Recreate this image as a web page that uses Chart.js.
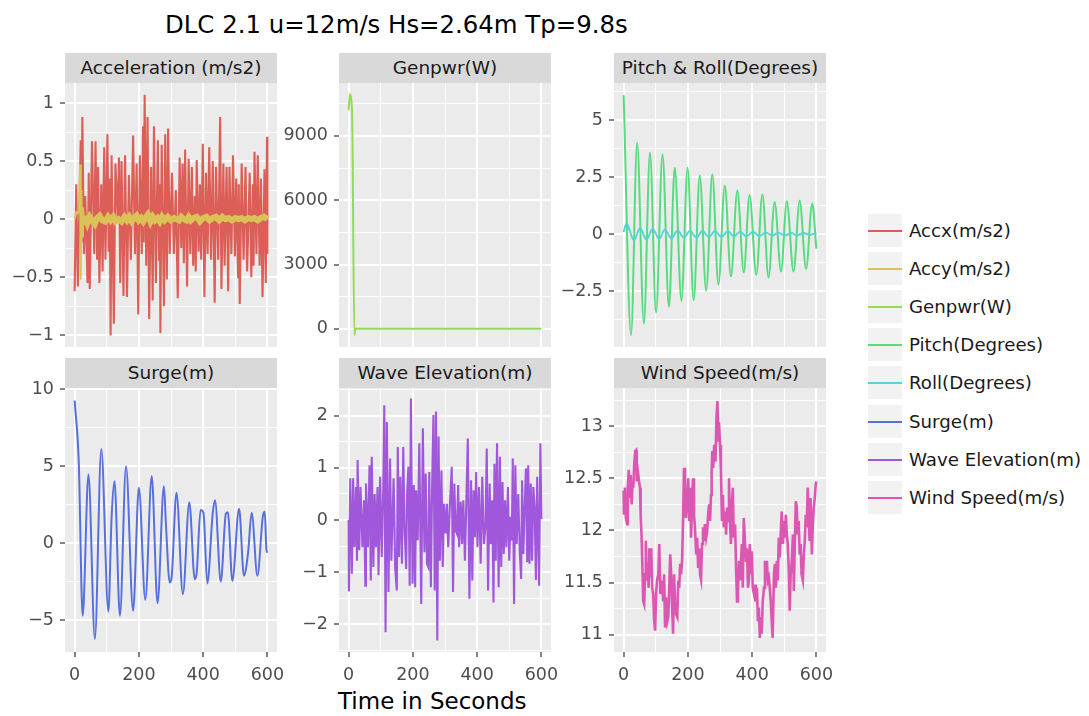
<!DOCTYPE html>
<html>
<head>
<meta charset="utf-8">
<script src="https://cdn.jsdelivr.net/npm/chart.js@4"></script>
<style>
  body { margin: 0; background: #fff; font-family: "DejaVu Sans", sans-serif; }
  #wrap { position: relative; width: 1089px; height: 716px; overflow: hidden; }
  #wrap canvas { position: absolute; }
  .strip { position: absolute; width: 212px; height: 30px; line-height: 30px; background: #D9D9D9;
           color: #1A1A1A; font-size: 18.5px; text-align: center; white-space: nowrap; }
  .key { position: absolute; left: 868px; width: 34px; height: 33px; background: #F2F2F2; }
  .key div { position: absolute; left: 0; width: 34px; top: 16px; height: 2px; }
  .ltext { position: absolute; left: 909px; height: 24px; line-height: 24px; font-size: 18.2px; color: #1A1A1A; white-space: nowrap; }
  .title { position: absolute; left: 165px; top: 10px; font-size: 24.4px; color: #000; white-space: nowrap; }
  .xtitle { position: absolute; left: 338px; top: 688px; font-size: 23px; color: #000; white-space: nowrap; }
</style>
</head>
<body>
<div id="wrap">
  <div class="title">DLC 2.1 u=12m/s Hs=2.64m Tp=9.8s</div>
  <div class="xtitle">Time in Seconds</div>
</div>
<script>
// Noms des séries (légende)
const seriesNames = ['Accx(m/s2)', 'Accy(m/s2)', 'Genpwr(W)', 'Pitch(Degrees)',
  'Roll(Degrees)', 'Surge(m)', 'Wave Elevation(m)', 'Wind Speed(m/s)'];
const seriesColors = ['#DB5F57', '#DBC257', '#91DB57', '#57DB80', '#57D3DB', '#5770DB', '#A157DB', '#DB57B2'];

// Données (temps en s, valeurs)
const accxTime = [0,5,10,19,21,24,29,33,40,44,47,54,61,65,70,73,77,83,87,92,96,102,106,109,112,115,122,127,134,138,
  142,146,152,157,163,169,175,182,188,193,198,203,209,213,215,218,223,227,232,238,243,247,253,259,263,265,267,271,278,282,
  287,291,296,303,309,315,321,327,332,336,340,344,350,355,360,365,369,374,377,380,386,390,394,399,404,409,414,419,425,430,
  436,440,447,453,457,463,467,473,478,482,488,493,499,503,509,511,514,520,526,532,537,545,550,555,557,560,566,570,576,580,
  585,591,595,599,600];
const accxValues = [-0.62,0.3,-0.58,0.68,-0.2,0.88,-0.3,0.2,-0.55,0.4,-0.6,0.67,-0.3,0.67,-0.35,0.45,-0.55,0.3,-0.45,0.62,
  -0.35,0.73,-0.28,0.35,-1.0,0.55,-0.9,0.48,0.0,0.53,-0.55,0.5,-0.66,0.55,-0.67,0.38,-0.35,0.72,-0.3,0.48,
  -0.82,0.55,-0.3,0.8,-0.2,1.07,-0.4,0.88,-0.86,0.45,-0.7,0.8,-0.55,0.68,-0.35,0.3,-0.98,0.64,-0.75,0.73,
  -0.52,0.78,-0.3,0.4,-0.3,0.25,-0.68,0.53,-0.25,0.48,-0.38,0.6,-0.58,0.52,-0.3,0.45,-0.4,0.2,-0.45,0.51,
  -0.28,0.3,-0.35,0.65,-0.67,0.4,-0.3,0.62,-0.35,0.5,-0.72,0.45,-0.35,0.88,-0.6,0.48,-0.4,0.45,-0.62,0.45,
  -0.3,0.55,-0.32,0.35,-0.5,0.3,-0.73,0.48,-0.35,0.45,-0.45,0.4,-0.5,0.3,-0.4,0.58,-0.3,0.55,-0.4,0.35,
  -0.67,0.43,-0.55,0.71,-0.3];

const accyTime = [0,5,10,14,17,19,21,23,26,29,33,40,47,55,63,70,78,86,95,104,112,120,128,137,146,155,163,170,178,186,
  193,200,207,214,222,228,236,243,250,258,265,272,280,290,300,310,318,325,332,340,348,355,362,370,380,390,400,410,420,430,
  440,450,460,470,480,490,500,510,520,530,540,550,560,570,580,590,600];
const accyValues = [0,0.06,0.05,0.08,0.47,-0.52,0.25,-0.15,0.1,-0.05,0.03,-0.03,0.02,-0.01,-0.04,0.01,0.03,-0.01,-0.02,0.02,
  -0.01,0.02,-0.02,0,-0.02,0.02,-0.01,0.02,-0.02,0.01,0.03,-0.01,0.01,-0.02,0.02,0.04,-0.02,0.02,-0.01,0.01,
  -0.02,0.02,-0.01,0.02,-0.01,0.01,0,-0.01,0.02,0,-0.01,0.02,-0.01,0.01,0.02,-0.02,0.01,0.02,-0.01,0.01,
  0.02,-0.01,0.02,0,0.01,-0.01,0.01,0,0.01,-0.01,0.01,0,0.01,-0.01,0.01,0.02,0];

const genpwrTime = [0,3,5,8,11,18,21,600];
const genpwrValues = [10200,10800,10950,10700,9900,-280,0,0];

const pitchTime = [0,23,42,63,82,101,121,141,159,180,199,218,237,257,276,295,315,334,354,374,392,413,432,451,470,490,508,529,548,568,587,600];
const pitchValues = [6.1,-4.44,4.01,-3.93,3.57,-3.46,3.5,-3.19,2.91,-2.93,2.91,-2.9,2.57,-2.49,2.62,-2.21,2.13,-1.87,1.91,-1.69,
  1.71,-1.79,1.74,-1.91,1.41,-1.65,1.44,-1.65,1.47,-1.54,1.34,-0.65];

const rollTime = [0,9,32,51,71,90,111,128,149,168,187,206,227,245,266,284,304,325,343,363,382,403,423,442,463,482,501,522,540,560,578,600];
const rollValues = [0.09,0.46,-0.28,0.26,-0.25,0.22,-0.21,0.19,-0.19,0.16,-0.16,0.13,-0.15,0.13,-0.13,0.13,-0.12,0.12,-0.1,0.1,
  -0.1,0.09,-0.09,0.07,-0.07,0.06,-0.06,0.04,-0.06,0.04,-0.03,0.03];

const surgeTime = [0,13,25,43,63,83,105,115,124,141,160,182,200,220,240,258,278,284,296,302,317,337,357,374,380,392,401,413,430,437,
  455,471,477,491,512,527,540,551,569,586,592,597,600];
const surgeValues = [9.27,5.2,-4.7,4.46,-6.2,6.12,-4.42,1.66,4.03,-4.7,5.0,-4.37,3.6,-3.66,4.35,-3.88,3.7,1.34,-2.54,-2.2,
  3.28,-3.3,2.67,-2.33,-1.9,2.16,1.98,-2.6,1.98,2.8,-2.48,1.94,2.02,-2.44,2.24,-2.1,-0.6,1.98,-2.1,1.77,2.05,-0.4,-0.6];

const waveTime = [0,1,5,10,14,18,23,26,28,33,37,43,48,52,54,60,65,69,72,77,81,85,90,93,98,103,108,111,115,119,
  124,129,133,140,145,150,153,157,161,166,170,174,179,182,186,190,194,199,203,207,210,215,220,226,231,236,240,244,248,251,
  256,260,264,268,272,276,280,284,289,293,297,302,306,310,315,321,325,329,333,337,341,344,349,353,357,362,366,371,376,381,
  385,389,393,397,401,406,411,416,421,426,430,434,439,443,447,451,454,458,462,467,471,475,479,483,487,491,496,500,504,508,
  511,515,519,523,528,533,537,540,544,548,552,556,559,563,567,571,575,579,583,587,590,593,597,600];
const waveValues = [0,-1.37,0.8,-1.03,0.8,-0.52,0.63,-0.78,1.15,-0.58,0.63,-0.52,0.38,-1.26,0.7,-0.52,1.05,-1.16,1.21,-0.9,
  0.5,-0.52,0.63,-1.06,0.83,-0.71,0.7,2.2,-2.15,1.88,-1.38,1.18,-0.78,0.8,-0.94,-1.35,1.4,-0.71,0.83,-0.84,
  1.4,-0.13,-0.94,0.5,1.02,-1.26,2.33,-1.22,0.67,-1.29,0.57,-0.39,1.47,-1.61,1.76,-0.62,0.89,-0.84,-0.9,0.92,
  -1.29,0.7,2.01,-1.35,2.08,-2.31,1.6,-0.78,0.95,-0.9,0.31,-0.26,0.31,-0.52,0.25,1.02,-1.38,0.7,-0.2,-0.26,
  0.67,-0.52,0.35,-0.46,0.38,-0.78,0.25,1.56,-1.51,0.76,-1.16,0.57,-0.33,0.92,-0.52,0.63,-0.84,0.83,-0.46,-0.13,
  1.37,-1.35,0.7,-0.46,0.38,-1.58,1.08,-0.78,1.47,-1.29,1.21,-0.9,0.73,-0.65,0.38,-0.52,0.63,-0.78,0.06,-0.39,
  1.18,-1.61,1.05,-0.46,0.5,-0.65,-1.13,0.76,-0.65,0.25,0.99,-0.81,1.05,-0.84,0.7,-0.78,0.63,0.25,-1.15,0.83,
  -0.26,-1.26,1.47,0.02];

const windTime = [0,1,4,7,11,13,16,19,22,25,28,30,33,36,39,41,44,48,51,53,56,59,61,64,67,69,72,74,78,80,
  83,86,89,92,95,98,101,104,108,111,114,117,120,123,126,129,132,136,139,142,145,148,151,154,157,160,163,167,170,173,
  176,179,182,185,188,191,194,198,201,204,207,210,213,216,219,222,226,229,232,235,238,241,244,247,250,253,257,260,263,266,
  269,272,274,276,279,282,286,289,292,295,297,300,303,306,309,312,316,319,322,325,328,331,334,337,340,343,347,350,353,356,
  359,362,365,368,371,374,378,381,384,387,390,393,396,399,402,406,409,412,415,418,421,424,427,430,433,437,440,443,446,449,
  452,455,458,461,464,468,471,474,477,480,483,486,489,492,496,499,502,505,508,511,514,517,520,523,527,530,533,536,539,542,
  545,548,551,554,558,561,564,567,570,573,576,579,582,586,589,592,595,598,600];
const windValues = [12.38,12.15,12.41,12.12,12.06,12.41,12.58,12.31,12.53,12.25,12.47,12.41,12.63,12.76,12.77,12.47,12.57,12.47,12.41,12.15,
  11.93,11.58,11.32,11.29,11.58,11.9,11.52,11.68,11.45,11.83,11.55,11.83,11.45,11.39,11.13,11.04,11.39,11.52,11.58,11.87,
  11.39,11.45,11.52,11.32,11.58,11.07,11.36,11.13,11.17,11.45,11.77,11.58,11.26,11.01,11.58,11.32,11.2,11.17,11.52,11.45,
  11.68,11.58,11.71,12.09,12.6,12.41,12.12,12.31,12.5,12.09,12.41,11.93,12.28,12.5,12.15,12.03,11.77,11.93,11.64,11.83,
  11.58,11.53,11.87,12.03,11.9,12.06,11.93,11.99,12.15,12.25,12.09,12.34,12.57,12.76,12.6,12.82,12.66,13.08,13.24,12.85,
  13.04,12.82,12.57,12.09,12.34,12.03,12.18,11.96,12.22,12.09,12.5,12.09,11.87,12.25,12.41,11.93,12.06,11.64,11.32,11.42,
  11.71,11.52,11.68,11.87,11.45,12.12,11.87,11.71,11.83,11.45,11.52,11.87,11.58,11.8,11.45,11.39,11.48,11.32,11.45,11.13,
  11.26,10.97,11.17,11.01,11.32,11.45,11.71,11.52,11.71,11.52,11.55,11.45,11.32,11.13,10.97,11.58,11.68,11.45,11.71,11.52,
  11.93,11.74,11.96,12.18,11.87,12.09,11.93,12.15,11.96,11.87,11.64,11.23,11.58,11.68,11.96,11.42,11.9,12.28,12.22,11.96,
  12.09,11.77,11.87,11.58,11.52,11.77,11.9,12.15,12.03,12.41,12.09,11.9,12.31,11.77,12.06,12.22,12.31,12.44,12.47];

// Graduations des axes
const timeTicks = [0, 200, 400, 600];
const accTicks = [-1, -0.5, 0, 0.5, 1];
const genpwrTicks = [0, 3000, 6000, 9000];
const pitchTicks = [-2.5, 0, 2.5, 5];
const surgeTicks = [-5, 0, 5, 10];
const waveTicks = [-2, -1, 0, 1, 2];
const windTicks = [11, 11.5, 12, 12.5, 13];

const seriesTime = [accxTime, accyTime, genpwrTime, pitchTime, rollTime, surgeTime, waveTime, windTime];
const seriesValues = [accxValues, accyValues, genpwrValues, pitchValues, rollValues, surgeValues, waveValues, windValues];

const panels = [
  { title: 'Acceleration (m/s2)', col: 0, row: 0, series: [0, 1], ticks: accTicks, min: -1.1, max: 1.172 },
  { title: 'Genpwr(W)', col: 1, row: 0, series: [2], ticks: genpwrTicks, min: -850, max: 11470 },
  { title: 'Pitch & Roll(Degrees)', col: 2, row: 0, series: [3, 4], ticks: pitchTicks, min: -4.96, max: 6.63 },
  { title: 'Surge(m)', col: 0, row: 1, series: [5], ticks: surgeTicks, min: -7.05, max: 10.08 },
  { title: 'Wave Elevation(m)', col: 1, row: 1, series: [6], ticks: waveTicks, min: -2.53, max: 2.53 },
  { title: 'Wind Speed(m/s)', col: 2, row: 1, series: [7], ticks: windTicks, min: 10.835, max: 13.365 }
];

const colX = [65, 339, 614];
const rowY = [83, 388];
const PW = 212, PH = 264, YAX = 64, PADR = 24, PADT = 20;
const smooth = [false, false, true, true, true, true, false, false];
const lineW = [2.1, 1.8, 2, 2, 2, 2, 2.1, 2.6];

Chart.defaults.font.family = '"DejaVu Sans", sans-serif';

function fmt(v) {
  return v < 0 ? '\u2212' + Math.abs(v) : String(v);
}

// grille majeure + mineure (à mi-chemin), comme ggplot
function allTicks(majors, min, max) {
  const step = majors[1] - majors[0];
  const out = majors.map(v => ({ value: v }));
  for (let v = majors[0] - step / 2; v <= max; v += step) {
    const r = Math.round(v * 1000) / 1000;
    if (r >= min && r <= max) out.push({ value: r });
  }
  return out.sort((a, b) => a.value - b.value);
}

const panelBg = {
  id: 'panelBg',
  beforeDraw(chart) {
    const a = chart.chartArea;
    const ctx = chart.ctx;
    ctx.save();
    ctx.fillStyle = '#EBEBEB';
    ctx.fillRect(a.left, a.top, a.right - a.left, a.bottom - a.top);
    ctx.restore();
  }
};

const wrap = document.getElementById('wrap');

panels.forEach(p => {
  const px = colX[p.col], py = rowY[p.row];
  const bottomRow = p.row === 1;

  const strip = document.createElement('div');
  strip.className = 'strip';
  strip.style.left = px + 'px';
  strip.style.top = (py - 30) + 'px';
  strip.textContent = p.title;
  wrap.appendChild(strip);

  const xAxisH = bottomRow ? 40 : 0;
  const padB = bottomRow ? 0 : 20;
  const canvas = document.createElement('canvas');
  canvas.width = YAX + PW + PADR;
  canvas.height = PADT + PH + xAxisH + padB;
  canvas.style.left = (px - YAX) + 'px';
  canvas.style.top = (py - PADT) + 'px';
  wrap.appendChild(canvas);

  const isMajorY = v => p.ticks.includes(v);
  const isMajorX = v => timeTicks.includes(v);

  new Chart(canvas, {
    type: 'line',
    data: {
      datasets: p.series.map((i, k) => ({
        label: seriesNames[i],
        data: seriesTime[i].map((t, j) => ({ x: t, y: seriesValues[i][j] })),
        borderColor: seriesColors[i],
        borderWidth: lineW[i],
        pointRadius: 0,
        cubicInterpolationMode: smooth[i] ? 'monotone' : 'default',
        tension: smooth[i] ? 0.4 : 0,
        order: p.series.length - k,
        segment: i === 1 ? { borderWidth: s => s.p0.parsed.x >= 30 ? 6 : 2 } : undefined
      }))
    },
    options: {
      responsive: false,
      animation: false,
      devicePixelRatio: 1,
      layout: { padding: { top: PADT, right: PADR, bottom: padB, left: 0 } },
      plugins: { legend: { display: false }, tooltip: { enabled: false } },
      scales: {
        x: {
          type: 'linear',
          min: -30,
          max: 630,
          afterBuildTicks: ax => { ax.ticks = allTicks(timeTicks, -30, 630); },
          afterFit: ax => { ax.height = xAxisH; },
          border: { display: false },
          grid: {
            color: '#FFFFFF',
            lineWidth: c => (c.tick && isMajorX(c.tick.value)) ? 2 : 1,
            drawTicks: bottomRow,
            tickLength: 5,
            tickWidth: 1.2,
            tickColor: c => (c.tick && isMajorX(c.tick.value)) ? '#333333' : 'rgba(0,0,0,0)'
          },
          ticks: {
            display: bottomRow,
            autoSkip: false,
            maxRotation: 0,
            padding: 8,
            color: '#4D4D4D',
            font: { size: 17.5 },
            callback: v => isMajorX(v) ? fmt(v) : ''
          }
        },
        y: {
          type: 'linear',
          min: p.min,
          max: p.max,
          afterBuildTicks: ax => { ax.ticks = allTicks(p.ticks, p.min, p.max); },
          afterFit: ax => { ax.width = YAX; },
          border: { display: false },
          grid: {
            color: '#FFFFFF',
            lineWidth: c => (c.tick && isMajorY(c.tick.value)) ? 2 : 1,
            tickLength: 5,
            tickWidth: 1.2,
            tickColor: c => (c.tick && isMajorY(c.tick.value)) ? '#333333' : 'rgba(0,0,0,0)'
          },
          ticks: {
            autoSkip: false,
            padding: 6,
            color: '#4D4D4D',
            font: { size: 17.5 },
            callback: v => isMajorY(v) ? fmt(v) : ''
          }
        }
      }
    },
    plugins: [panelBg]
  });
});

// Légende
seriesNames.forEach((name, i) => {
  const top = Math.round(214 + i * 38.1);
  const key = document.createElement('div');
  key.className = 'key';
  key.style.top = top + 'px';
  const line = document.createElement('div');
  line.style.background = seriesColors[i];
  key.appendChild(line);
  wrap.appendChild(key);

  const txt = document.createElement('div');
  txt.className = 'ltext';
  txt.style.top = (top + 16.5 - 12) + 'px';
  txt.textContent = name;
  wrap.appendChild(txt);
});
</script>
</body>
</html>
